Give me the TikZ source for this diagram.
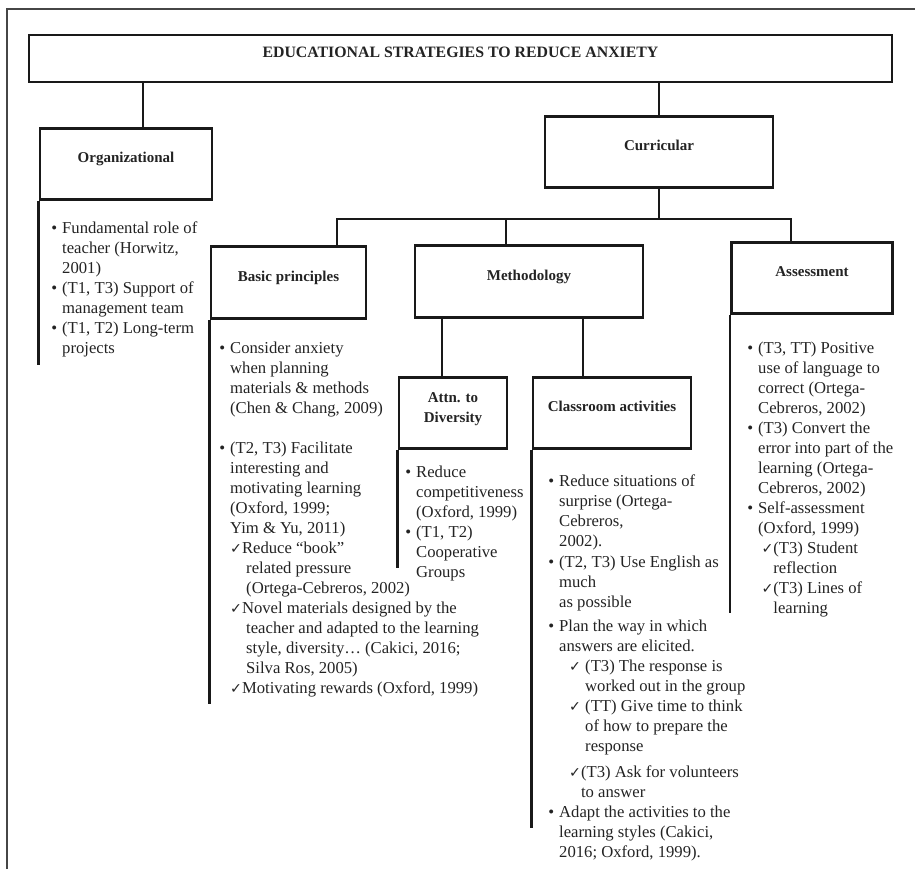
\documentclass[tikz,border=0pt]{standalone}
\usepackage{fontspec}
\setmainfont{Liberation Serif}
\newfontfamily\symfont{DejaVu Sans}
\usepackage{tikz}
\definecolor{framegray}{RGB}{70,70,70}
\definecolor{linegray}{RGB}{25,25,25}
\definecolor{textgray}{RGB}{35,35,35}
\newcommand{\chk}{{\symfont\fontsize{8.5}{9}\selectfont ✓}}
\newcommand{\chkind}{\hphantom{\chk}}

\begin{document}
\begin{tikzpicture}[x=0.6pt, y=-0.6pt,
hdr/.style={draw=linegray, line width=1.7pt, minimum height=43pt, inner sep=0pt,
font=\bfseries\fontsize{9}{11.5}\selectfont, text=textgray, text height=6.5pt, text depth=7.8pt},
conn/.style={draw=linegray, line width=1.6pt},
lst/.style={anchor=base west, inner sep=0pt, font=\fontsize{10}{12}\selectfont, text=textgray}
]
\useasboundingbox (0,0) rectangle (915,869);
\draw[framegray, line width=0.9pt] (7,869) -- (7,9) -- (915,9);

\node[hdr, minimum width=517.8pt, minimum height=28.2pt,
font=\bfseries\fontsize{9.5}{11}\selectfont, text depth=8pt] (title) at (460.5,58.5)
{EDUCATIONAL STRATEGIES TO REDUCE ANXIETY};
\node[hdr, minimum width=103.2pt] (org) at (126,164) {Organizational};
\node[hdr, minimum width=136.8pt] (cur) at (659,152) {Curricular};
\node[hdr, minimum width=93pt] (bas) at (288.5,282.5) {Basic principles};
\node[hdr, minimum width=136.8pt] (meth) at (529,281.5) {Methodology};
\node[hdr, minimum width=96.9pt] (asm) at (812,278) {Assessment};
\node[hdr, minimum width=64.8pt, text height=18pt, text depth=7.2pt] (att) at (453,413)
{\begin{tabular}[b]{@{}c@{}}Attn. to\\Diversity\end{tabular}};
\node[hdr, minimum width=94.8pt] (cls) at (612,413) {Classroom activities};

% tree connectors
\draw[conn] (title.south -| 143,0) -- (org.north -| 143,0);
\draw[conn] (cur.north |- title.south) -- (cur.north);
\draw[conn] (cur.south) -- (cur.south |- 0,219);
\draw[conn] (bas.north -| 337,0) -- (337,219) -- (791,219) -- (asm.north -| 791,0);
\draw[conn] (meth.north -| 506,0) -- (506,219);
\draw[conn] (meth.south -| 442,0) -- (att.north -| 442,0);
\draw[conn] (meth.south -| 583,0) -- (cls.north -| 583,0);

% list rules
\draw[conn] (org.south west) -- ++(0,164);
\draw[conn] (bas.south west) -- ++(0,384);
\draw[conn] (att.south west) -- ++(0,118);
\draw[conn] (cls.south west) -- ++(0,378);
\draw[conn] (asm.south west) -- ++(0,298);

\node[lst] (orgl) at (51,233) {\begin{tabular}[t]{@{}l@{\hspace{3pt}}l@{}}
\textbullet & Fundamental role of\\
 & teacher (Horwitz,\\
 & 2001)\\
\textbullet & (T1, T3) Support of\\
 & management team\\
\textbullet & (T1, T2) Long-term\\
 & projects
\end{tabular}};

\node[lst] (basl) at (219,353) {\begin{tabular}[t]{@{}l@{\hspace{3pt}}l@{}}
\textbullet & Consider anxiety\\
 & when planning\\
 & materials \& methods\\
 & (Chen \& Chang, 2009)\\[12.5pt]
\textbullet & (T2, T3) Facilitate\\
 & interesting and\\
 & motivating learning\\
 & (Oxford, 1999;\\
 & Yim \& Yu, 2011)\\
 & \chk Reduce ``book''\\
 & \chkind\ related pressure\\
 & \chkind\ (Ortega-Cebreros, 2002)\\
 & \chk Novel materials designed by the\\
 & \chkind\ teacher and adapted to the learning\\
 & \chkind\ style, diversity\dots\ (Cakici, 2016;\\
 & \chkind\ Silva Ros, 2005)\\
 & \chk Motivating rewards (Oxford, 1999)
\end{tabular}};

\node[lst] (attl) at (405,477) {\begin{tabular}[t]{@{}l@{\hspace{3pt}}l@{}}
\textbullet & Reduce\\
 & competitiveness\\
 & (Oxford, 1999)\\
\textbullet & (T1, T2)\\
 & Cooperative\\
 & Groups
\end{tabular}};

\node[lst] (clsl) at (548,486) {\begin{tabular}[t]{@{}l@{\hspace{3pt}}l@{}}
\textbullet & Reduce situations of\\
 & surprise (Ortega-\\
 & Cebreros,\\
 & 2002).\\[1pt]
\textbullet & (T2, T3) Use English as\\
 & much\\
 & as possible\\[2pt]
\textbullet & Plan the way in which\\
 & answers are elicited.\\
 & \hspace{6pt}\chk\ (T3) The response is\\
 & \hspace{6pt}\chkind\ worked out in the group\\
 & \hspace{6pt}\chk\ (TT) Give time to think\\
 & \hspace{6pt}\chkind\ of how to prepare the\\
 & \hspace{6pt}\chkind\ response\\[4pt]
 & \hspace{6pt}\chk(T3) Ask for volunteers\\
 & \hspace{6pt}\chkind to answer\\
\textbullet & Adapt the activities to the\\
 & learning styles (Cakici,\\
 & 2016; Oxford, 1999).
\end{tabular}};

\node[lst] (asml) at (747,353) {\begin{tabular}[t]{@{}l@{\hspace{3pt}}l@{}}
\textbullet & (T3, TT) Positive\\
 & use of language to\\
 & correct (Ortega-\\
 & Cebreros, 2002)\\
\textbullet & (T3) Convert the\\
 & error into part of the\\
 & learning (Ortega-\\
 & Cebreros, 2002)\\
\textbullet & Self-assessment\\
 & (Oxford, 1999)\\
 & \hspace{2pt}\chk(T3) Student\\
 & \hspace{2pt}\chkind reflection\\
 & \hspace{2pt}\chk(T3) Lines of\\
 & \hspace{2pt}\chkind learning
\end{tabular}};
\end{tikzpicture}
\end{document}
